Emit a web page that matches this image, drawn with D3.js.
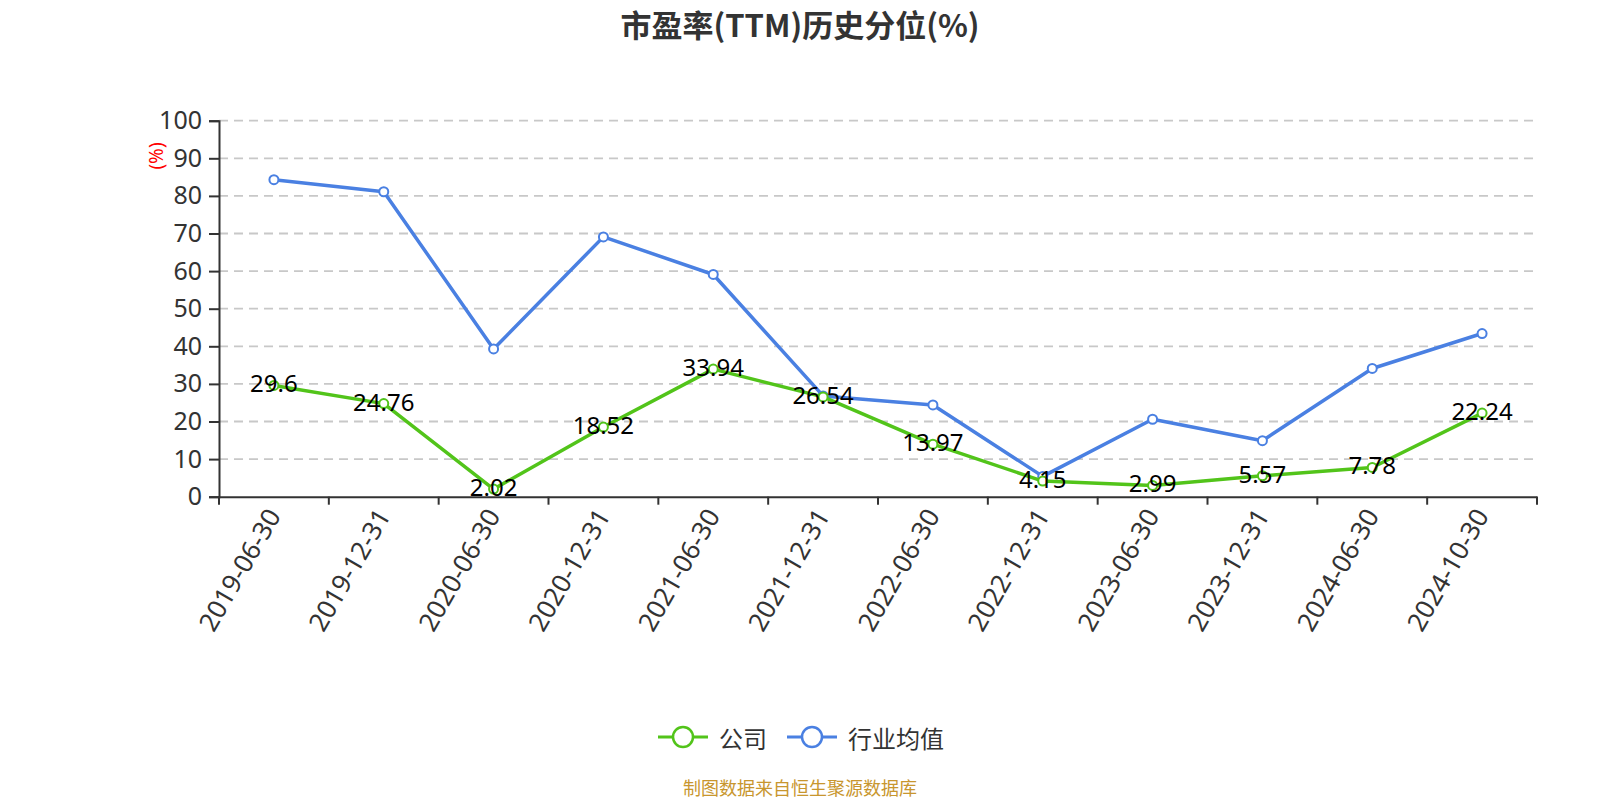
<!DOCTYPE html>
<html><head><meta charset="utf-8">
<script src="https://cdn.jsdelivr.net/npm/d3@7"></script>
<style>
html,body{margin:0;padding:0;background:#fff;}
svg{display:block;font-family:"Noto Sans","Noto Sans CJK SC",sans-serif;}
</style></head>
<body><svg id="c" width="1600" height="800"></svg>
<script>
const categories = ["2019-06-30","2019-12-31","2020-06-30","2020-12-31","2021-06-30","2021-12-31","2022-06-30","2022-12-31","2023-06-30","2023-12-31","2024-06-30","2024-10-30"];
const companyValues = [29.6,24.76,2.02,18.52,33.94,26.54,13.97,4.15,2.99,5.57,7.78,22.24];
const industryValues = [84.3,81.1,39.3,69.1,59.1,26.8,24.4,5.4,20.6,14.9,34.1,43.4];
const yTicks = [0,10,20,30,40,50,60,70,80,90,100];
const seriesNames = ["公司","行业均值"];
const colors = ["#52c41a","#4a80e2"];

const svg = d3.select("#c");
const pL = 219, pR = 1537, pT = 120.7, pB = 496.7;
const x = d3.scaleBand().domain(categories).range([pL, pR]).padding(0);
const y = d3.scaleLinear().domain([0,100]).range([pB, pT]);
const cx = d => x(d) + x.bandwidth()/2;

// title
svg.append("text").attr("x",800).attr("y",23).attr("text-anchor","middle")
  .attr("dominant-baseline","central")
  .attr("font-size",31).attr("font-weight","bold").attr("fill","#333")
  .attr("font-family","'Noto Sans CJK SC',sans-serif")
  .text("市盈率(TTM)历史分位(%)");

// grid
svg.append("g").selectAll("line").data(yTicks.filter(v=>v>0)).join("line")
  .attr("x1",pL).attr("x2",pR).attr("y1",d=>y(d)).attr("y2",d=>y(d))
  .attr("stroke","#c8c8c8").attr("stroke-width",1.8).attr("stroke-dasharray","9,6");

// y axis
const ya = svg.append("g").attr("transform",`translate(${pL},0)`)
  .call(d3.axisLeft(y).tickValues(yTicks).tickSize(10).tickPadding(7));
ya.select(".domain").attr("stroke","#333").attr("stroke-width",2);
ya.selectAll(".tick line").attr("stroke","#333").attr("stroke-width",2);
ya.selectAll(".tick text").attr("font-size",25).attr("fill","#333")
  .attr("font-family","'Noto Sans',sans-serif");

// x axis
const xa = svg.append("g").attr("transform",`translate(0,${pB})`)
  .call(d3.axisBottom(x).tickSize(0).tickFormat(""));
xa.select(".domain").attr("stroke","#333").attr("stroke-width",2);
xa.selectAll(".tick").remove();
const bounds = categories.map(c=>x(c)).concat([pR]);
svg.append("g").selectAll("line").data(bounds).join("line")
  .attr("x1",d=>d).attr("x2",d=>d).attr("y1",pB).attr("y2",pB+8)
  .attr("stroke","#333").attr("stroke-width",2);
svg.append("g").selectAll("text").data(categories).join("text")
  .attr("transform",d=>`translate(${cx(d)-1},${pB+14}) rotate(-60)`)
  .attr("text-anchor","end").attr("dominant-baseline","central")
  .attr("font-size",26).attr("fill","#333")
  .attr("font-family","'Noto Sans',sans-serif")
  .text(d=>d);

// y axis name
svg.append("text").attr("transform","translate(156,156) rotate(-90)")
  .attr("text-anchor","middle").attr("dominant-baseline","central")
  .attr("font-size",19).attr("fill","red").text("(%)");

// lines
const seriesData = [companyValues, industryValues];
const line = d3.line().x((d,i)=>cx(categories[i])).y(d=>y(d));
[1,0].forEach(si=>{
  const vals = seriesData[si];
  svg.append("path").datum(vals).attr("d",line).attr("fill","none")
    .attr("stroke",colors[si]).attr("stroke-width",3.5).attr("stroke-linejoin","round");
  svg.append("g").selectAll("circle").data(vals).join("circle")
    .attr("cx",(d,i)=>cx(categories[i])).attr("cy",d=>y(d)).attr("r",4.5)
    .attr("fill","#fff").attr("stroke",colors[si]).attr("stroke-width",2);
});
// labels for company
svg.append("g").selectAll("text").data(companyValues).join("text")
  .attr("x",(d,i)=>cx(categories[i])).attr("y",d=>y(d)+7)
  .attr("text-anchor","middle").attr("font-size",24).attr("fill","#000")
  .attr("font-family","'Noto Sans',sans-serif")
  .text(d=>d);

// legend
const leg = [{x:658, name:seriesNames[0], c:colors[0]},{x:787, name:seriesNames[1], c:colors[1]}];
leg.forEach(l=>{
  const g = svg.append("g");
  g.append("line").attr("x1",l.x).attr("x2",l.x+50).attr("y1",737).attr("y2",737)
    .attr("stroke",l.c).attr("stroke-width",3);
  g.append("circle").attr("cx",l.x+25).attr("cy",737).attr("r",10)
    .attr("fill","#fff").attr("stroke",l.c).attr("stroke-width",2.5);
  g.append("text").attr("x",l.x+61).attr("y",737).attr("dominant-baseline","central")
    .attr("font-size",24).attr("fill","#333")
    .attr("font-family","'Noto Sans CJK SC',sans-serif").text(l.name);
});

// source
svg.append("text").attr("x",800).attr("y",787).attr("text-anchor","middle")
  .attr("dominant-baseline","central").attr("font-size",18).attr("fill","#c8962e")
  .attr("font-family","'Noto Sans CJK SC',sans-serif")
  .text("制图数据来自恒生聚源数据库");
</script></body></html>
